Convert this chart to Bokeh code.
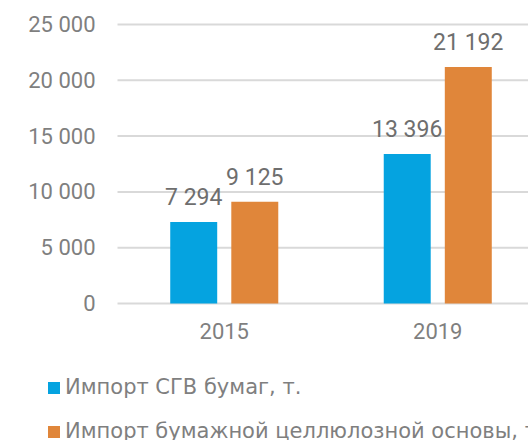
import numpy as np
from bokeh.plotting import figure
from bokeh.models import (ColumnDataSource, Range1d, LabelSet, Legend, LegendItem)
from bokeh.core.properties import value
from bokeh.embed import file_html
from bokeh.resources import INLINE

# ---- data ----
years = ["2015", "2019"]
series_names = ["Импорт СГВ бумаг, т.", "Импорт бумажной целлюлозной основы, т."]
sgv_import = [7294, 13396]
cellulose_import = [9125, 21192]
y_ticks = [0, 5000, 10000, 15000, 20000, 25000]

colors = ["#05A3E0", "#E0863A"]
text_gray = "#7F7F7F"
font = "Roboto"
legend_font = "DejaVu Sans"

def fmt(v):
    return f"{v:,}".replace(",", " ")

idx = np.arange(len(years))
dodge = 0.143
bar_w = 0.22
x_start, x_end = -1.048, 1.425
grid_left = -0.5

p = figure(width=528, height=440, output_backend="svg", toolbar_location=None,
           x_range=Range1d(x_start, x_end), y_range=Range1d(-12276, 27150),
           x_axis_location=None, y_axis_location=None,
           min_border=0)
p.outline_line_color = None
p.grid.grid_line_color = None
p.background_fill_color = "white"
p.border_fill_color = "white"

# horizontal grid lines (value axis)
p.segment(x0=[grid_left] * len(y_ticks), x1=[x_end] * len(y_ticks),
          y0=y_ticks, y1=y_ticks, line_color="#D9D9D9", line_width=2)

# y tick labels
p.text(x=[grid_left] * len(y_ticks), y=y_ticks, text=[fmt(t) for t in y_ticks],
       x_offset=-22, text_align="right", text_baseline="middle",
       text_font=value(font), text_font_size="22px", text_color=text_gray)

# x category labels
p.text(x=idx, y=[0] * len(years), text=years, y_offset=28,
       text_align="center", text_baseline="middle",
       text_font=value(font), text_font_size="22px", text_color=text_gray)

src1 = ColumnDataSource(dict(x=idx - dodge, top=sgv_import,
                             label=[fmt(v) for v in sgv_import]))
src2 = ColumnDataSource(dict(x=idx + dodge, top=cellulose_import,
                             label=[fmt(v) for v in cellulose_import]))

r1 = p.vbar(x="x", top="top", bottom=0, width=bar_w, source=src1,
            fill_color=colors[0], line_color=None)
r2 = p.vbar(x="x", top="top", bottom=0, width=bar_w, source=src2,
            fill_color=colors[1], line_color=None)

for s in (src1, src2):
    p.add_layout(LabelSet(x="x", y="top", text="label", source=s,
                          text_align="center", text_baseline="alphabetic",
                          y_offset=17, text_font=value(font),
                          text_font_size="23px", text_color="#6E6E6E"))

legend = Legend(items=[LegendItem(label=series_names[0], renderers=[r1]),
                       LegendItem(label=series_names[1], renderers=[r2])],
                location=(46, -4), orientation="vertical",
                glyph_width=15, glyph_height=15, label_standoff=4,
                label_height=26, spacing=18, padding=0, margin=0,
                border_line_color=None, background_fill_alpha=0,
                label_text_font=legend_font, label_text_font_size="21px",
                label_text_color=text_gray, label_text_baseline="middle")
p.add_layout(legend, "center")

open("out.html", "w").write(file_html(p, INLINE))
